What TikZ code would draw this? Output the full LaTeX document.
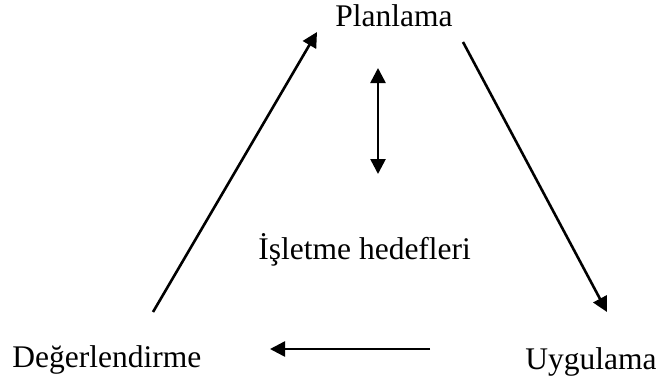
\documentclass[tikz,border=0pt]{standalone}
\usepackage{fontspec}
\setmainfont{Liberation Serif}
\usetikzlibrary{arrows.meta,positioning}
\tikzset{
    every node/.style={font=\fontsize{15.75}{18}\selectfont, inner sep=0pt},
    label node/.style={anchor=base west},
    flow/.style={line width=1.3pt, -{Triangle[length=7.5pt,width=7.5pt]}}
}

\begin{document}
\begin{tikzpicture}[x=0.5pt, y=-0.5pt]
  \useasboundingbox (0,0) rectangle (656,387);
  \node[label node] (plan) at (335,26)  {Planlama};
  \node[label node] (hedef) at (258,259) {İşletme hedefleri};
  \node[label node] (deger) at (12,367)  {Değerlendirme};
  \node[label node] (uyg)   at (525,369) {Uygulama};

  \coordinate (d1) at (153,312);
  \coordinate (p1) at (317,32);
  \coordinate (p2) at (463,42);
  \coordinate (u1) at (607,312);
  \coordinate (u2) at (430,349);
  \coordinate (d2) at (270,349);
  \coordinate (h1) at (378,68);
  \coordinate (h2) at (378,174);

  \draw[flow] (d1) -- (p1);
  \draw[flow] (p2) -- (u1);
  \draw[flow] (u2) -- (d2);
  \draw[flow, {Triangle[length=7.5pt,width=7.5pt]}-{Triangle[length=7.5pt,width=7.5pt]}] (h1) -- (h2);
\end{tikzpicture}
\end{document}
